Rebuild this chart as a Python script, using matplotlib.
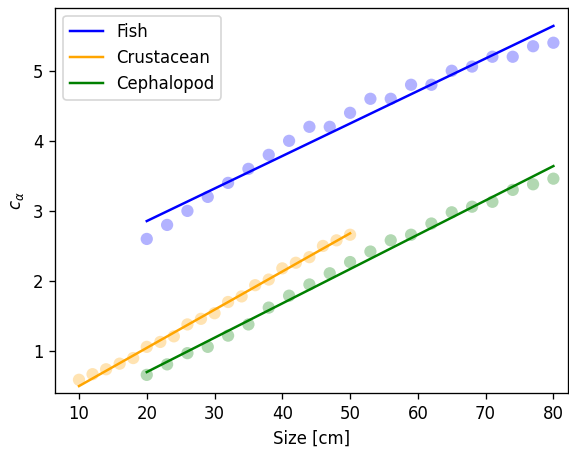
import matplotlib
matplotlib.use("Agg")
import matplotlib.pyplot as plt

# Observed coefficient values by body size
fish_size = [20, 23, 26, 29, 32, 35, 38, 41, 44, 47, 50, 53, 56, 59, 62, 65, 68, 71, 74, 77, 80]
fish_c = [2.60, 2.80, 3.00, 3.20, 3.40, 3.60, 3.80, 4.00, 4.20, 4.20, 4.40,
          4.60, 4.60, 4.80, 4.80, 5.00, 5.06, 5.20, 5.20, 5.35, 5.40]

crust_size = [10, 12, 14, 16, 18, 20, 22, 24, 26, 28, 30, 32, 34, 36, 38, 40, 42, 44, 46, 48, 50]
crust_c = [0.59, 0.67, 0.74, 0.82, 0.90, 1.06, 1.13, 1.21, 1.38, 1.46, 1.54,
           1.70, 1.78, 1.94, 2.02, 2.18, 2.26, 2.34, 2.50, 2.58, 2.66]

ceph_size = [20, 23, 26, 29, 32, 35, 38, 41, 44, 47, 50, 53, 56, 59, 62, 65, 68, 71, 74, 77, 80]
ceph_c = [0.66, 0.81, 0.97, 1.06, 1.22, 1.38, 1.62, 1.79, 1.95, 2.11, 2.27,
          2.42, 2.58, 2.66, 2.82, 2.98, 3.06, 3.13, 3.30, 3.38, 3.46]

# Fitted linear trends (endpoints)
fish_fit_x = [20, 80]
fish_fit_y = [2.855, 5.64]
crust_fit_x = [10, 50]
crust_fit_y = [0.50, 2.68]
ceph_fit_x = [20, 80]
ceph_fit_y = [0.70, 3.64]

dpi = 119
fig = plt.figure(figsize=(569 / dpi, 457 / dpi), dpi=dpi)
ax = fig.add_axes([55 / 569, (457 - 393.3) / 457, (568.3 - 55) / 569, (393.3 - 7.7) / 457])

ax.scatter(fish_size, fish_c, color="blue", alpha=0.3, s=55, edgecolors="none")
ax.plot(fish_fit_x, fish_fit_y, color="blue", label="Fish")
ax.scatter(crust_size, crust_c, color="orange", alpha=0.3, s=55, edgecolors="none")
ax.plot(crust_fit_x, crust_fit_y, color="orange", label="Crustacean")
ax.scatter(ceph_size, ceph_c, color="green", alpha=0.3, s=55, edgecolors="none")
ax.plot(ceph_fit_x, ceph_fit_y, color="green", label="Cephalopod")

ax.set_xlim(6.46, 82.2)
ax.set_ylim(0.397, 5.90)
ax.set_xticks([10, 20, 30, 40, 50, 60, 70, 80])
ax.set_yticks([1, 2, 3, 4, 5])
ax.set_xlabel("Size [cm]")
ax.set_ylabel(r"$c_\alpha$")
ax.legend(loc="upper left")

fig.savefig("out.png", dpi=dpi)
